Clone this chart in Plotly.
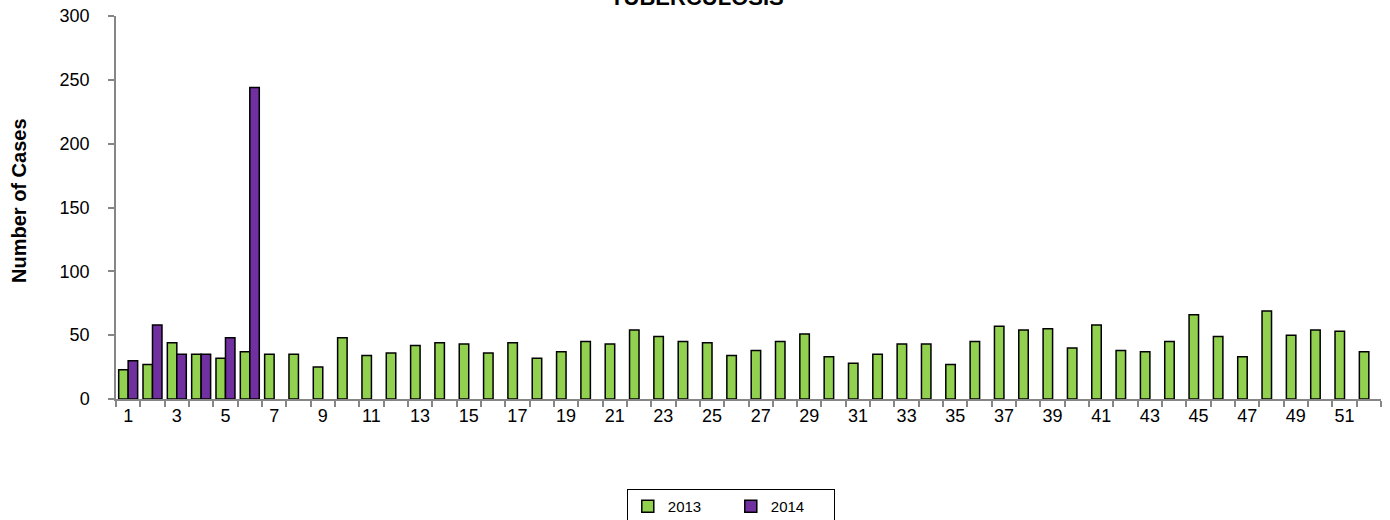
import plotly.graph_objects as go

weeks = list(range(1, 53))
cases_2013 = [23, 27, 44, 35, 32, 37, 35, 35, 25, 48, 34, 36, 42, 44, 43, 36, 44, 32, 37, 45,
              43, 54, 49, 45, 44, 34, 38, 45, 51, 33, 28, 35, 43, 43, 27, 45, 57, 54, 55, 40,
              58, 38, 37, 45, 66, 49, 33, 69, 50, 54, 53, 37]
weeks_2014 = [1, 2, 3, 4, 5, 6]
cases_2014 = [30, 58, 35, 35, 48, 244]
x_tick_labels = [str(w) for w in range(1, 53, 2)]
y_ticks = [0, 50, 100, 150, 200, 250, 300]

FONT = "Arial, Liberation Sans, Helvetica, sans-serif"
AXIS_GRAY = "#868686"

fig = go.Figure()
fig.add_trace(go.Bar(x=weeks, y=cases_2013, name="2013",
                     marker=dict(color="#92D050", line=dict(color="black", width=1.5)),
                     offsetgroup="a"))
fig.add_trace(go.Bar(x=weeks_2014, y=cases_2014, name="2014",
                     marker=dict(color="#7030A0", line=dict(color="black", width=1.5)),
                     offsetgroup="b"))

fig.update_layout(
    template="none",
    width=1390, height=520,
    margin=dict(l=116, r=9, t=16, b=121, autoexpand=False),
    paper_bgcolor="white", plot_bgcolor="white",
    font=dict(family=FONT, color="black"),
    barmode="group", bargap=0.22, bargroupgap=0,
    title=dict(text="<b>TUBERCULOSIS</b>", x=0.5014, xref="container", xanchor="center",
               y=1 - 5 / 520, yref="container", yanchor="bottom", automargin=False,
               font=dict(size=22, family=FONT, color="black")),
    showlegend=True,
    legend=dict(orientation="h", x=0.486, xanchor="center", y=-0.235, yanchor="top",
                bordercolor="black", borderwidth=1, font=dict(size=15, family=FONT),
                itemwidth=30, entrywidth=58, traceorder="normal"),
)

fig.update_xaxes(
    range=[0.5, 52.5], tickmode="array", tickvals=list(range(1, 53, 2)), ticktext=x_tick_labels,
    ticks="", showgrid=False, zeroline=False, automargin=False,
    showline=True, linecolor=AXIS_GRAY, linewidth=1.5,
    tickfont=dict(size=18, family=FONT, color="black"),
    minor=dict(tickmode="linear", tick0=0.5, dtick=1, ticks="outside", ticklen=6,
               tickcolor=AXIS_GRAY, tickwidth=1.5, showgrid=False),
)
fig.update_yaxes(
    range=[0, 300], tickmode="array", tickvals=y_ticks,
    ticks="outside", ticklen=6, tickcolor=AXIS_GRAY, tickwidth=1.5,
    showline=True, linecolor=AXIS_GRAY, linewidth=1.5,
    showgrid=False, zeroline=False, automargin=False,
    tickfont=dict(size=18, family=FONT, color="black"),
    ticklabelstandoff=15,
)

fig.add_annotation(text="<b>Number of Cases</b>", xref="paper", yref="paper",
                   x=(19 - 116) / 1265, y=0.517, xanchor="center", yanchor="middle",
                   textangle=-90, showarrow=False,
                   font=dict(size=20, family=FONT, color="black"))

fig.write_html("out.html", config={"displayModeBar": False},
               post_script="document.body.style.margin='0';")
